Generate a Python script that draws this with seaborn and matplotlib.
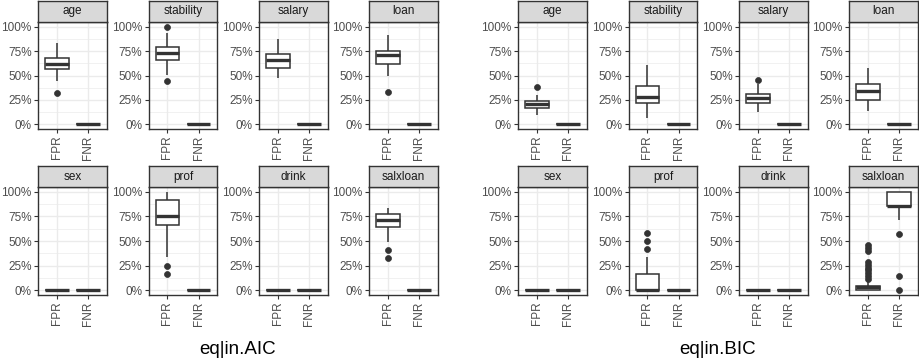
import matplotlib
matplotlib.use("Agg")
import matplotlib.pyplot as plt
from matplotlib.ticker import PercentFormatter, MultipleLocator
import pandas as pd
import seaborn as sns

# ---------------------------------------------------------------- data
variables = ["age", "stability", "salary", "loan", "sex", "prof", "drink", "salxloan"]
metrics = ["FPR", "FNR"]
criteria = ["AIC", "BIC"]
titles = ["eq|in.AIC", "eq|in.BIC"]

zeros13 = [0.0, 0.0, 0.0, 0.0, 0.0, 0.0, 0.0, 0.0, 0.0, 0.0, 0.0, 0.0, 0.0]

# false positive / false negative rates per selected variable, AIC
aic_fpr = {
    "age":       [0.32, 0.44, 0.52, 0.57, 0.59, 0.60, 0.62, 0.64, 0.66, 0.68, 0.72, 0.78, 0.83],
    "stability": [0.44, 0.51, 0.60, 0.66, 0.69, 0.71, 0.73, 0.75, 0.77, 0.79, 0.83, 0.94, 1.00],
    "salary":    [0.47, 0.52, 0.55, 0.58, 0.61, 0.64, 0.66, 0.68, 0.70, 0.72, 0.76, 0.81, 0.88],
    "loan":      [0.33, 0.50, 0.58, 0.62, 0.66, 0.69, 0.71, 0.72, 0.74, 0.75, 0.80, 0.86, 0.92],
    "sex":       zeros13,
    "prof":      [0.167, 0.25, 0.333, 0.667, 0.667, 0.75, 0.75, 0.833, 0.917, 0.917, 1.0, 1.0, 1.0],
    "drink":     zeros13,
    "salxloan":  [0.33, 0.41, 0.49, 0.64, 0.67, 0.69, 0.71, 0.73, 0.75, 0.775, 0.79, 0.81, 0.835],
}
aic_fnr = {v: zeros13 for v in variables}

# false positive / false negative rates per selected variable, BIC
bic_fpr = {
    "age":       [0.09, 0.12, 0.14, 0.163, 0.18, 0.19, 0.204, 0.21, 0.22, 0.237, 0.26, 0.295, 0.385],
    "stability": [0.06, 0.12, 0.18, 0.22, 0.24, 0.26, 0.28, 0.30, 0.34, 0.39, 0.45, 0.52, 0.605],
    "salary":    [0.12, 0.16, 0.19, 0.22, 0.24, 0.25, 0.265, 0.28, 0.29, 0.305, 0.33, 0.415, 0.45],
    "loan":      [0.13, 0.18, 0.22, 0.25, 0.29, 0.31, 0.336, 0.36, 0.39, 0.415, 0.46, 0.52, 0.58],
    "sex":       zeros13,
    "prof":      [0.0, 0.0, 0.0, 0.0, 0.0, 0.0, 0.0, 0.0, 0.0,
                  0.083, 0.083, 0.16, 0.16, 0.333, 0.417, 0.5, 0.583],
    "drink":     zeros13,
    "salxloan":  [0.0, 0.0, 0.0, 0.0, 0.0, 0.0, 0.0, 0.0, 0.0, 0.0, 0.0, 0.0, 0.0,
                  0.029, 0.029, 0.029, 0.029, 0.029, 0.029, 0.029, 0.029, 0.029, 0.029, 0.029, 0.029,
                  0.029, 0.029, 0.029, 0.029, 0.029, 0.029, 0.043, 0.043, 0.043, 0.043, 0.043, 0.043,
                  0.057, 0.086,
                  0.114, 0.143, 0.171, 0.200, 0.229, 0.257, 0.286, 0.400, 0.429, 0.457],
}
bic_fnr = {v: zeros13 for v in variables}
bic_fnr["salxloan"] = [0.0, 0.143, 0.571, 0.714, 0.857, 0.857, 0.857, 0.857, 0.857,
                       0.857, 1.0, 1.0, 1.0, 1.0, 1.0, 1.0, 1.0]

rows = []
for crit, fpr, fnr in [("AIC", aic_fpr, aic_fnr), ("BIC", bic_fpr, bic_fnr)]:
    for var in variables:
        for metric, source in [("FPR", fpr), ("FNR", fnr)]:
            for val in source[var]:
                rows.append((crit, var, metric, val))
df = pd.DataFrame(rows, columns=["criterion", "variable", "metric", "rate"])

# ---------------------------------------------------------------- styling
sns.set_theme(style="white")
plt.rcParams["font.family"] = ["Liberation Sans", "DejaVu Sans"]

W, H = 920, 364
fig = plt.figure(figsize=(W / 100, H / 100), dpi=100)
fig.patch.set_facecolor("white")

def px_axes(x0, y0, w, h):
    return fig.add_axes([x0 / W, 1 - (y0 + h) / H, w / W, h / H])

DARK = "#333333"
TICKTXT = "#4D4D4D"
GRID = "#EBEBEB"

col_x = [38, 148.5, 259, 369]
group_shift = [0, 480]
strip_top = [0.5, 166]
strip_h = 21.5
panel_top = [22, 187]
panel_h = [107, 108]
panel_w = 69

for g, crit in enumerate(criteria):
    for i, var in enumerate(variables):
        r, c = divmod(i, 4)
        x0 = col_x[c] + group_shift[g]
        ax = px_axes(x0, panel_top[r], panel_w, panel_h[r])
        sub = df[(df["criterion"] == crit) & (df["variable"] == var)]
        sns.boxplot(
            data=sub, x="metric", y="rate", order=metrics, ax=ax,
            width=0.75, color="white", linecolor=DARK, linewidth=1.1,
            showcaps=False, fliersize=4.3,
            medianprops=dict(linewidth=2.4, color=DARK),
            flierprops=dict(marker="o", markerfacecolor=DARK,
                            markeredgecolor=DARK, markeredgewidth=0.5),
        )
        ax.set_xlim(-0.6, 1.6)
        ax.set_ylim(-0.05, 1.05)
        ax.set_xlabel("")
        ax.set_ylabel("")
        ax.set_facecolor("white")
        ax.yaxis.set_major_locator(MultipleLocator(0.25))
        ax.yaxis.set_minor_locator(MultipleLocator(0.125))
        ax.yaxis.set_major_formatter(PercentFormatter(1.0, decimals=0))
        ax.set_xticks([0, 1])
        ax.set_xticklabels(metrics)
        ax.grid(which="major", axis="both", color=GRID, linewidth=1.0)
        ax.grid(which="minor", axis="y", color=GRID, linewidth=0.5)
        ax.set_axisbelow(True)
        ax.tick_params(axis="both", which="major", length=3, width=0.8,
                       color=DARK, labelcolor=TICKTXT, labelsize=8.5, pad=1.5,
                       bottom=True, left=True)
        ax.tick_params(axis="x", labelrotation=90)
        ax.tick_params(which="minor", length=0)
        for sp in ax.spines.values():
            sp.set_color(DARK)
            sp.set_linewidth(1.0)

        sax = px_axes(x0, strip_top[r], panel_w, strip_h)
        sax.set_facecolor("#D9D9D9")
        sax.set_xticks([])
        sax.set_yticks([])
        for sp in sax.spines.values():
            sp.set_color(DARK)
            sp.set_linewidth(1.0)
        sax.text(0.5, 0.5, var, ha="center", va="center", fontsize=8.5,
                 color="#1A1A1A", transform=sax.transAxes)

    cx = (col_x[0] + col_x[3] + panel_w) / 2 + group_shift[g]
    fig.text(cx / W, 1 - 349 / H, titles[g], ha="center", va="center",
             fontsize=13.5, color="black")

fig.savefig("out.png", dpi=100, facecolor="white")
